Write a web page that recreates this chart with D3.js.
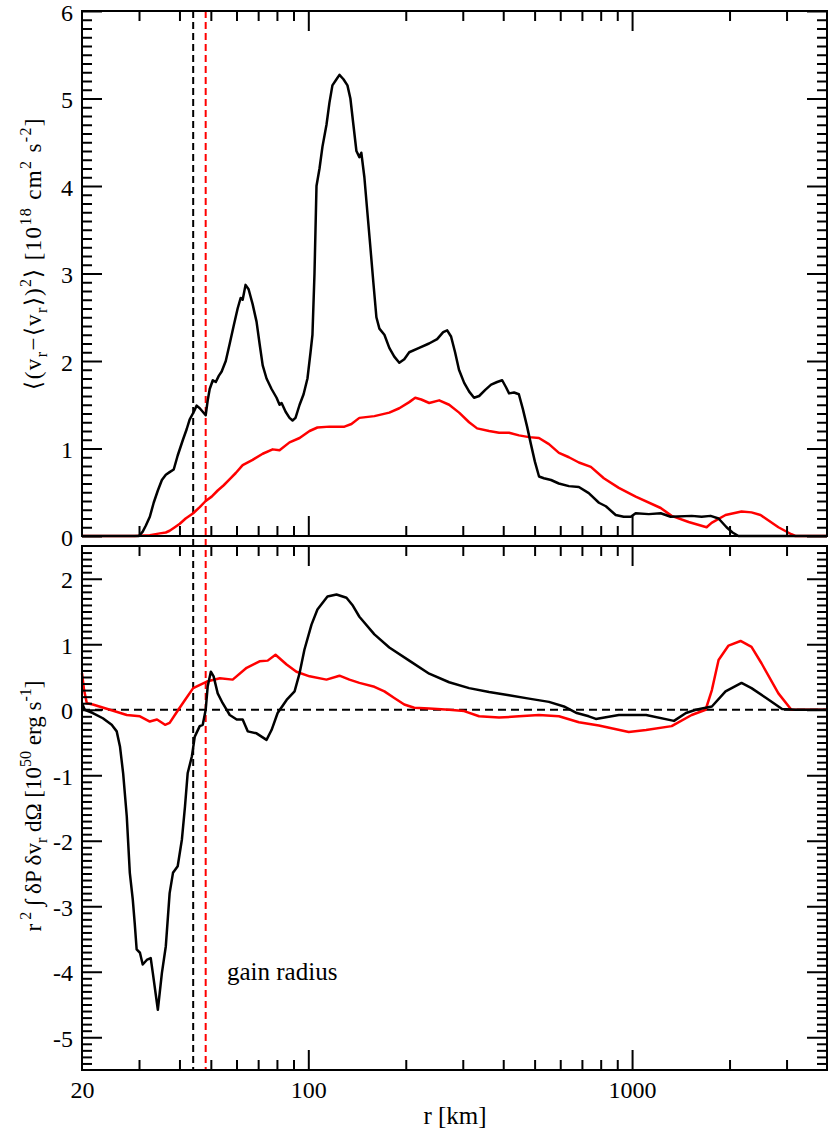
<!DOCTYPE html>
<html><head><meta charset="utf-8">
<script src="https://cdn.jsdelivr.net/npm/d3@7"></script>
<style>
body{margin:0;background:#fff}
text{font-family:"Liberation Serif","Times New Roman",serif;fill:#000}
</style>
</head><body>
<svg id="c" width="830" height="1133"></svg>
<script>
// ---- data: [r (km), value] ----
const topBlack = [[20,0],[29.6,0],[30,0],[30.8,0.05],[31.5,0.12],[32.4,0.22],[33.3,0.38],[34.3,0.52],[35.3,0.64],[36.3,0.70],[37.3,0.73],[38.4,0.76],[39.5,0.92],[41.0,1.10],[42.1,1.22],[43.0,1.33],[44.3,1.42],[45.2,1.49],[46.2,1.46],[47.2,1.42],[48.2,1.38],[48.9,1.55],[49.6,1.68],[50.7,1.78],[51.8,1.76],[52.9,1.83],[54.0,1.88],[55.6,2.0],[57.2,2.2],[58.8,2.4],[60.5,2.6],[61.8,2.72],[62.7,2.70],[64.0,2.87],[65.4,2.82],[67.3,2.65],[69.2,2.45],[70.7,2.2],[72.3,1.95],[74.3,1.80],[77.0,1.68],[79.8,1.58],[81.5,1.50],[82.7,1.52],[85.1,1.42],[87.5,1.35],[89.4,1.32],[91.3,1.35],[94.0,1.5],[96.7,1.62],[99.4,1.8],[101.6,2.1],[103.0,2.3],[104.5,3.0],[106.0,4.0],[108.3,4.2],[110.6,4.45],[113.8,4.7],[116.2,4.95],[118.7,5.15],[122.2,5.22],[124.8,5.27],[128.4,5.22],[132.1,5.15],[134.9,5.0],[137.8,4.7],[140.8,4.4],[143.8,4.33],[145.8,4.38],[149.0,4.1],[152.2,3.7],[155.5,3.3],[158.8,2.9],[162.3,2.5],[165.8,2.37],[171.8,2.3],[177.9,2.15],[184.3,2.05],[191.0,1.98],[197.9,2.02],[205,2.1],[220,2.15],[236,2.2],[250,2.25],[261,2.33],[268.5,2.35],[276,2.28],[284,2.1],[292,1.9],[303,1.75],[314,1.65],[325,1.58],[337,1.6],[352,1.67],[367,1.73],[383,1.76],[397,1.78],[408,1.7],[417,1.63],[432,1.64],[447,1.62],[460,1.45],[474,1.25],[487,1.05],[501,0.85],[516,0.68],[534,0.66],[562,0.64],[594,0.6],[638,0.57],[685,0.56],[735,0.49],[790,0.38],[830,0.34],[890,0.24],[942,0.22],[991,0.22],[1026,0.26],[1126,0.25],[1226,0.26],[1316,0.22],[1528,0.23],[1640,0.22],[1748,0.23],[1850,0.2],[1958,0.1],[2043,0.04],[2132,0],[4000,0]];
const topRed = [[20,0],[29.1,0],[32.4,0.01],[34.8,0.03],[36.3,0.04],[37.3,0.06],[38.7,0.1],[40.1,0.14],[41.8,0.2],[44.1,0.26],[46.2,0.33],[48.2,0.40],[50.3,0.45],[52.5,0.52],[54.8,0.58],[57.2,0.65],[59.7,0.72],[62.7,0.81],[67.3,0.87],[72.3,0.94],[77.6,0.99],[81.5,0.98],[87.5,1.07],[94,1.12],[100.9,1.2],[106.7,1.24],[116.2,1.25],[129.3,1.25],[135.9,1.28],[143.8,1.35],[160,1.37],[177.9,1.41],[191,1.46],[205,1.53],[213.9,1.58],[223.3,1.56],[236.3,1.52],[253.7,1.55],[272.3,1.5],[292.3,1.41],[313.8,1.3],[332.2,1.23],[361.7,1.2],[388.3,1.18],[416.9,1.18],[447.5,1.15],[480.5,1.13],[515.7,1.12],[553.7,1.05],[594.5,0.95],[638.2,0.9],[685.1,0.84],[746,0.79],[818,0.66],[910,0.55],[1026,0.45],[1226,0.32],[1325,0.23],[1495,0.16],[1699,0.1],[1760,0.15],[1944,0.24],[2178,0.28],[2338,0.27],[2493,0.24],[2831,0.1],[3105,0.02],[3194,0],[4000,0]];
const botBlack = [[20,0.10],[20.4,0.0],[21.6,-0.05],[23.2,-0.13],[24.7,-0.23],[25.6,-0.33],[26.2,-0.56],[26.8,-0.97],[27.5,-1.63],[28.1,-2.49],[28.7,-2.9],[29.1,-3.26],[29.5,-3.66],[30.2,-3.71],[30.8,-3.89],[31.7,-3.82],[32.6,-3.79],[33.1,-4.02],[34.3,-4.58],[35.3,-4.02],[36.3,-3.61],[37.3,-2.80],[38.2,-2.49],[39.5,-2.39],[40.7,-1.98],[41.6,-1.48],[42.4,-0.97],[43.7,-0.71],[44.6,-0.41],[46.2,-0.25],[47.2,-0.23],[48.2,0.0],[48.9,0.36],[50.0,0.58],[51.0,0.51],[52.5,0.25],[54.4,0.10],[57.2,-0.08],[60.1,-0.15],[62.7,-0.15],[65.0,-0.33],[69.2,-0.36],[74.3,-0.46],[77.0,-0.31],[80.4,-0.05],[85.7,0.15],[90.7,0.28],[94.0,0.56],[97.3,0.92],[102.3,1.30],[106.7,1.53],[114.6,1.73],[122.2,1.76],[131.2,1.71],[136.8,1.60],[143.8,1.42],[160,1.15],[177.9,0.95],[205,0.75],[236.3,0.55],[272.3,0.42],[313.8,0.33],[361.7,0.27],[416.9,0.22],[480.5,0.17],[553.7,0.12],[616,0.05],[675,-0.05],[735,-0.1],[773,-0.14],[910,-0.08],[1105,-0.08],[1347,-0.17],[1467,-0.05],[1574,0],[1764,0.05],[1944,0.28],[2178,0.41],[2338,0.33],[2595,0.18],[2906,0.01],[3194,0],[4000,0]];
const botRed = [[20,0.56],[20.3,0.30],[20.7,0.10],[21.6,0.08],[24.4,0.0],[27.5,-0.08],[30.2,-0.10],[32.4,-0.18],[34.1,-0.15],[36.1,-0.23],[37.3,-0.20],[39.3,-0.03],[41.6,0.15],[44.1,0.33],[48.6,0.43],[53.3,0.48],[58.4,0.46],[64.5,0.64],[70.7,0.74],[74.9,0.75],[79.2,0.84],[85.7,0.69],[91.9,0.58],[100.9,0.51],[113.8,0.46],[124.8,0.52],[134,0.46],[143.8,0.41],[160,0.35],[171.8,0.28],[184.3,0.18],[197.9,0.08],[212.4,0.03],[236.3,0.02],[272.3,0.0],[302.9,-0.02],[336.9,-0.1],[388.3,-0.12],[447.5,-0.1],[515.7,-0.08],[594.5,-0.1],[685.1,-0.19],[789.6,-0.24],[976.8,-0.34],[1104.7,-0.31],[1325,-0.25],[1528,-0.08],[1687,0.0],[1764,0.30],[1850,0.76],[1986,0.98],[2163,1.05],[2338,0.96],[2510,0.71],[2831,0.25],[3105,0.0],[4000,0]];
const gainRadii = [{r:44.1,color:"#000"},{r:48.2,color:"#ff0000"}];
const xMajor = [100,1000];
const xMinor = [30,40,50,60,70,80,90,200,300,400,500,600,700,800,900,2000,3000];
const xLabels = [20,100,1000];
const topYMajor = [0,1,2,3,4,5,6];
const botYMajor = [-5,-4,-3,-2,-1,0,1,2];

// ---- layout ----
const L=82,R=827, T1=11,B1=536, T2=546,B2=1070;
const svg=d3.select("#c");
const x=d3.scaleLog().domain([20,4000]).range([L,R]);
const yTop=d3.scaleLinear().domain([0,6]).range([B1,T1]);
const yBot=d3.scaleLinear().domain([-5.5,2.5]).range([B2,T2]);

const topMinor=d3.range(1,60).filter(i=>i%10!==0).map(i=>i/10);
const botMinor=d3.range(-54,25).filter(i=>i%10!==0).map(i=>i/10);

function styleAxis(g){
  g.select(".domain").remove();
  g.selectAll(".tick line").attr("stroke","#000").attr("stroke-width",2);
  g.selectAll(".tick text").attr("font-size",24).attr("font-family",'"Liberation Serif",serif').attr("fill","#000");
}
function panel(yS,T,B,yMaj,yMin,showX){
  svg.append("g").attr("transform",`translate(${L},0)`)
    .call(d3.axisLeft(yS).tickValues(yMaj).tickSize(-20).tickPadding(9).tickFormat(d=>String(d))).call(styleAxis)
    .call(g=>g.selectAll(".tick text").attr("dy","0.38em"));
  svg.append("g").attr("transform",`translate(${L},0)`)
    .call(d3.axisLeft(yS).tickValues(yMin).tickSize(-10).tickFormat("")).call(styleAxis);
  svg.append("g").attr("transform",`translate(${R},0)`)
    .call(d3.axisRight(yS).tickValues(yMaj).tickSize(-20).tickFormat("")).call(styleAxis);
  svg.append("g").attr("transform",`translate(${R},0)`)
    .call(d3.axisRight(yS).tickValues(yMin).tickSize(-10).tickFormat("")).call(styleAxis);
  svg.append("g").attr("transform",`translate(0,${T})`)
    .call(d3.axisTop(x).tickValues(xMajor).tickSize(-20).tickFormat("")).call(styleAxis);
  svg.append("g").attr("transform",`translate(0,${T})`)
    .call(d3.axisTop(x).tickValues(xMinor).tickSize(-10).tickFormat("")).call(styleAxis);
  svg.append("g").attr("transform",`translate(0,${B})`)
    .call(d3.axisBottom(x).tickValues(xMajor).tickSize(-20).tickFormat("")).call(styleAxis);
  svg.append("g").attr("transform",`translate(0,${B})`)
    .call(d3.axisBottom(x).tickValues(xMinor).tickSize(-10).tickFormat("")).call(styleAxis);
  if(showX){
    svg.append("g").attr("transform",`translate(0,${B})`)
      .call(d3.axisBottom(x).tickValues(xLabels).tickSize(0).tickPadding(11).tickFormat(d=>String(d))).call(styleAxis);
  }
}

gainRadii.forEach(g=>{
  svg.append("line").attr("x1",x(g.r)).attr("x2",x(g.r)).attr("y1",T1).attr("y2",B2)
    .attr("stroke",g.color).attr("stroke-width",2).attr("stroke-dasharray","7,4");
});
svg.append("line").attr("x1",L).attr("x2",R).attr("y1",yBot(0)).attr("y2",yBot(0))
  .attr("stroke","#000").attr("stroke-width",2).attr("stroke-dasharray","8,5");

function curve(data,yS,color){
  svg.append("path").datum(data)
    .attr("d",d3.line().x(d=>x(d[0])).y(d=>yS(d[1])))
    .attr("fill","none").attr("stroke",color).attr("stroke-width",2.5).attr("stroke-linejoin","round");
}
curve(topRed,yTop,"#ff0000");
curve(topBlack,yTop,"#000");
curve(botRed,yBot,"#ff0000");
curve(botBlack,yBot,"#000");

panel(yTop,T1,B1,topYMajor,topMinor,false);
panel(yBot,T2,B2,botYMajor,botMinor,true);

[[T1,B1],[T2,B2]].forEach(([t,b])=>{
  svg.append("rect").attr("x",L).attr("y",t).attr("width",R-L).attr("height",b-t)
    .attr("fill","none").attr("stroke","#000").attr("stroke-width",2);
});

svg.append("text").attr("x",227).attr("y",980).attr("font-size",25).text("gain radius");
svg.append("text").attr("x",455).attr("y",1124).attr("font-size",25).attr("text-anchor","middle").text("r [km]");

function richLabel(cx,cy,parts,len){
  const t=svg.append("text").attr("transform",`translate(${cx},${cy}) rotate(-90)`)
    .attr("text-anchor","middle").attr("font-size",23);
  if(len) t.attr("textLength",len).attr("lengthAdjust","spacing");
  let shift=0;
  parts.forEach(p=>{
    const target = p.s==="sub"?6:(p.s==="sup"?-10:0);
    const ts=t.append("tspan").attr("dy",target-shift).text(p.t);
    if(p.s) ts.attr("font-size",16);
    shift=target;
  });
}
richLabel(41,254,[
  {t:"\u27E8(v"},{t:"r",s:"sub"},{t:"\u2212\u27E8v"},{t:"r",s:"sub"},{t:"\u27E9)"},{t:"2",s:"sup"},
  {t:"\u27E9  [10"},{t:"18",s:"sup"},{t:" cm"},{t:"2",s:"sup"},{t:" s"},{t:"-2",s:"sup"},{t:"]"}
],271);
richLabel(41,806,[
  {t:"r"},{t:" 2",s:"sup"},{t:" \u222B \u03B4P \u03B4v"},{t:"r",s:"sub"},{t:" d\u03A9 [10"},{t:"50",s:"sup"},
  {t:" erg s"},{t:"-1",s:"sup"},{t:"]"}
],null);
</script>
</body></html>
